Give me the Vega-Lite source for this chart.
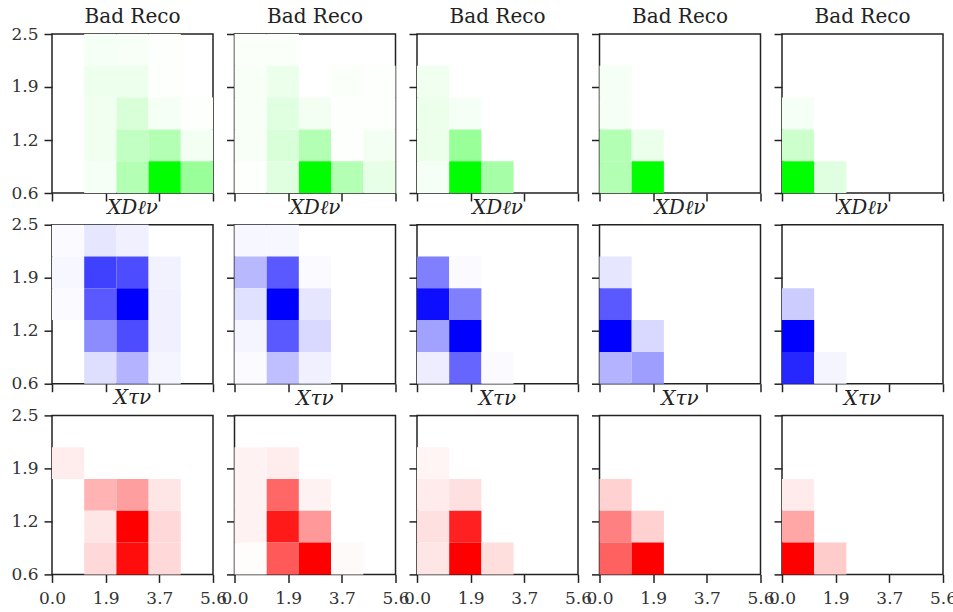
{
  "$schema": "https://vega.github.io/schema/vega-lite/v6.json",
  "padding": {"left": 10, "top": 6, "right": 5, "bottom": 3},
  "datasets": {
    "cells": [
      {"cat": "bad", "p": 1, "x": 1.68, "y": 2.31, "w": 0.04},
      {"cat": "bad", "p": 1, "x": 2.8, "y": 2.31, "w": 0.03},
      {"cat": "bad", "p": 1, "x": 3.92, "y": 2.31, "w": 0.01},
      {"cat": "bad", "p": 1, "x": 1.68, "y": 1.93, "w": 0.07},
      {"cat": "bad", "p": 1, "x": 2.8, "y": 1.93, "w": 0.07},
      {"cat": "bad", "p": 1, "x": 3.92, "y": 1.93, "w": 0.01},
      {"cat": "bad", "p": 1, "x": 1.68, "y": 1.55, "w": 0.06},
      {"cat": "bad", "p": 1, "x": 2.8, "y": 1.55, "w": 0.15},
      {"cat": "bad", "p": 1, "x": 3.92, "y": 1.55, "w": 0.04},
      {"cat": "bad", "p": 1, "x": 5.04, "y": 1.55, "w": 0.01},
      {"cat": "bad", "p": 1, "x": 1.68, "y": 1.17, "w": 0.06},
      {"cat": "bad", "p": 1, "x": 2.8, "y": 1.17, "w": 0.24},
      {"cat": "bad", "p": 1, "x": 3.92, "y": 1.17, "w": 0.3},
      {"cat": "bad", "p": 1, "x": 5.04, "y": 1.17, "w": 0.05},
      {"cat": "bad", "p": 1, "x": 1.68, "y": 0.79, "w": 0.04},
      {"cat": "bad", "p": 1, "x": 2.8, "y": 0.79, "w": 0.3},
      {"cat": "bad", "p": 1, "x": 3.92, "y": 0.79, "w": 1.0},
      {"cat": "bad", "p": 1, "x": 5.04, "y": 0.79, "w": 0.4},

      {"cat": "bad", "p": 2, "x": 0.56, "y": 2.31, "w": 0.02},
      {"cat": "bad", "p": 2, "x": 1.68, "y": 2.31, "w": 0.02},
      {"cat": "bad", "p": 2, "x": 0.56, "y": 1.93, "w": 0.03},
      {"cat": "bad", "p": 2, "x": 1.68, "y": 1.93, "w": 0.08},
      {"cat": "bad", "p": 2, "x": 3.92, "y": 1.93, "w": 0.02},
      {"cat": "bad", "p": 2, "x": 5.04, "y": 1.93, "w": 0.01},
      {"cat": "bad", "p": 2, "x": 0.56, "y": 1.55, "w": 0.03},
      {"cat": "bad", "p": 2, "x": 1.68, "y": 1.55, "w": 0.12},
      {"cat": "bad", "p": 2, "x": 2.8, "y": 1.55, "w": 0.05},
      {"cat": "bad", "p": 2, "x": 3.92, "y": 1.55, "w": 0.01},
      {"cat": "bad", "p": 2, "x": 5.04, "y": 1.55, "w": 0.01},
      {"cat": "bad", "p": 2, "x": 0.56, "y": 1.17, "w": 0.03},
      {"cat": "bad", "p": 2, "x": 1.68, "y": 1.17, "w": 0.15},
      {"cat": "bad", "p": 2, "x": 2.8, "y": 1.17, "w": 0.3},
      {"cat": "bad", "p": 2, "x": 3.92, "y": 1.17, "w": 0.01},
      {"cat": "bad", "p": 2, "x": 5.04, "y": 1.17, "w": 0.05},
      {"cat": "bad", "p": 2, "x": 0.56, "y": 0.79, "w": 0.01},
      {"cat": "bad", "p": 2, "x": 1.68, "y": 0.79, "w": 0.12},
      {"cat": "bad", "p": 2, "x": 2.8, "y": 0.79, "w": 1.0},
      {"cat": "bad", "p": 2, "x": 3.92, "y": 0.79, "w": 0.3},
      {"cat": "bad", "p": 2, "x": 5.04, "y": 0.79, "w": 0.1},

      {"cat": "bad", "p": 3, "x": 0.56, "y": 1.93, "w": 0.06},
      {"cat": "bad", "p": 3, "x": 0.56, "y": 1.55, "w": 0.08},
      {"cat": "bad", "p": 3, "x": 1.68, "y": 1.55, "w": 0.04},
      {"cat": "bad", "p": 3, "x": 0.56, "y": 1.17, "w": 0.08},
      {"cat": "bad", "p": 3, "x": 1.68, "y": 1.17, "w": 0.4},
      {"cat": "bad", "p": 3, "x": 0.56, "y": 0.79, "w": 0.04},
      {"cat": "bad", "p": 3, "x": 1.68, "y": 0.79, "w": 1.0},
      {"cat": "bad", "p": 3, "x": 2.8, "y": 0.79, "w": 0.35},

      {"cat": "bad", "p": 4, "x": 0.56, "y": 1.93, "w": 0.04},
      {"cat": "bad", "p": 4, "x": 0.56, "y": 1.55, "w": 0.04},
      {"cat": "bad", "p": 4, "x": 0.56, "y": 1.17, "w": 0.3},
      {"cat": "bad", "p": 4, "x": 1.68, "y": 1.17, "w": 0.08},
      {"cat": "bad", "p": 4, "x": 0.56, "y": 0.79, "w": 0.3},
      {"cat": "bad", "p": 4, "x": 1.68, "y": 0.79, "w": 1.0},

      {"cat": "bad", "p": 5, "x": 0.56, "y": 1.55, "w": 0.04},
      {"cat": "bad", "p": 5, "x": 0.56, "y": 1.17, "w": 0.2},
      {"cat": "bad", "p": 5, "x": 0.56, "y": 0.79, "w": 1.0},
      {"cat": "bad", "p": 5, "x": 1.68, "y": 0.79, "w": 0.12},

      {"cat": "xdl", "p": 1, "x": 0.56, "y": 2.31, "w": 0.02},
      {"cat": "xdl", "p": 1, "x": 1.68, "y": 2.31, "w": 0.1},
      {"cat": "xdl", "p": 1, "x": 2.8, "y": 2.31, "w": 0.06},
      {"cat": "xdl", "p": 1, "x": 0.56, "y": 1.93, "w": 0.03},
      {"cat": "xdl", "p": 1, "x": 1.68, "y": 1.93, "w": 0.75},
      {"cat": "xdl", "p": 1, "x": 2.8, "y": 1.93, "w": 0.7},
      {"cat": "xdl", "p": 1, "x": 3.92, "y": 1.93, "w": 0.05},
      {"cat": "xdl", "p": 1, "x": 0.56, "y": 1.55, "w": 0.02},
      {"cat": "xdl", "p": 1, "x": 1.68, "y": 1.55, "w": 0.65},
      {"cat": "xdl", "p": 1, "x": 2.8, "y": 1.55, "w": 1.0},
      {"cat": "xdl", "p": 1, "x": 3.92, "y": 1.55, "w": 0.06},
      {"cat": "xdl", "p": 1, "x": 1.68, "y": 1.17, "w": 0.45},
      {"cat": "xdl", "p": 1, "x": 2.8, "y": 1.17, "w": 0.7},
      {"cat": "xdl", "p": 1, "x": 3.92, "y": 1.17, "w": 0.06},
      {"cat": "xdl", "p": 1, "x": 1.68, "y": 0.79, "w": 0.13},
      {"cat": "xdl", "p": 1, "x": 2.8, "y": 0.79, "w": 0.3},
      {"cat": "xdl", "p": 1, "x": 3.92, "y": 0.79, "w": 0.04},

      {"cat": "xdl", "p": 2, "x": 0.56, "y": 2.31, "w": 0.03},
      {"cat": "xdl", "p": 2, "x": 1.68, "y": 2.31, "w": 0.03},
      {"cat": "xdl", "p": 2, "x": 0.56, "y": 1.93, "w": 0.28},
      {"cat": "xdl", "p": 2, "x": 1.68, "y": 1.93, "w": 0.65},
      {"cat": "xdl", "p": 2, "x": 2.8, "y": 1.93, "w": 0.02},
      {"cat": "xdl", "p": 2, "x": 0.56, "y": 1.55, "w": 0.12},
      {"cat": "xdl", "p": 2, "x": 1.68, "y": 1.55, "w": 1.0},
      {"cat": "xdl", "p": 2, "x": 2.8, "y": 1.55, "w": 0.1},
      {"cat": "xdl", "p": 2, "x": 0.56, "y": 1.17, "w": 0.04},
      {"cat": "xdl", "p": 2, "x": 1.68, "y": 1.17, "w": 0.65},
      {"cat": "xdl", "p": 2, "x": 2.8, "y": 1.17, "w": 0.15},
      {"cat": "xdl", "p": 2, "x": 0.56, "y": 0.79, "w": 0.02},
      {"cat": "xdl", "p": 2, "x": 1.68, "y": 0.79, "w": 0.25},
      {"cat": "xdl", "p": 2, "x": 2.8, "y": 0.79, "w": 0.06},

      {"cat": "xdl", "p": 3, "x": 0.56, "y": 1.93, "w": 0.5},
      {"cat": "xdl", "p": 3, "x": 1.68, "y": 1.93, "w": 0.02},
      {"cat": "xdl", "p": 3, "x": 0.56, "y": 1.55, "w": 0.95},
      {"cat": "xdl", "p": 3, "x": 1.68, "y": 1.55, "w": 0.5},
      {"cat": "xdl", "p": 3, "x": 0.56, "y": 1.17, "w": 0.37},
      {"cat": "xdl", "p": 3, "x": 1.68, "y": 1.17, "w": 1.0},
      {"cat": "xdl", "p": 3, "x": 0.56, "y": 0.79, "w": 0.07},
      {"cat": "xdl", "p": 3, "x": 1.68, "y": 0.79, "w": 0.6},
      {"cat": "xdl", "p": 3, "x": 2.8, "y": 0.79, "w": 0.02},

      {"cat": "xdl", "p": 4, "x": 0.56, "y": 1.93, "w": 0.1},
      {"cat": "xdl", "p": 4, "x": 0.56, "y": 1.55, "w": 0.65},
      {"cat": "xdl", "p": 4, "x": 0.56, "y": 1.17, "w": 1.0},
      {"cat": "xdl", "p": 4, "x": 1.68, "y": 1.17, "w": 0.15},
      {"cat": "xdl", "p": 4, "x": 0.56, "y": 0.79, "w": 0.3},
      {"cat": "xdl", "p": 4, "x": 1.68, "y": 0.79, "w": 0.38},

      {"cat": "xdl", "p": 5, "x": 0.56, "y": 1.55, "w": 0.2},
      {"cat": "xdl", "p": 5, "x": 0.56, "y": 1.17, "w": 1.0},
      {"cat": "xdl", "p": 5, "x": 0.56, "y": 0.79, "w": 0.85},
      {"cat": "xdl", "p": 5, "x": 1.68, "y": 0.79, "w": 0.04},

      {"cat": "xtv", "p": 1, "x": 0.56, "y": 1.93, "w": 0.07},
      {"cat": "xtv", "p": 1, "x": 1.68, "y": 1.55, "w": 0.3},
      {"cat": "xtv", "p": 1, "x": 2.8, "y": 1.55, "w": 0.38},
      {"cat": "xtv", "p": 1, "x": 3.92, "y": 1.55, "w": 0.1},
      {"cat": "xtv", "p": 1, "x": 1.68, "y": 1.17, "w": 0.1},
      {"cat": "xtv", "p": 1, "x": 2.8, "y": 1.17, "w": 1.0},
      {"cat": "xtv", "p": 1, "x": 3.92, "y": 1.17, "w": 0.15},
      {"cat": "xtv", "p": 1, "x": 1.68, "y": 0.79, "w": 0.15},
      {"cat": "xtv", "p": 1, "x": 2.8, "y": 0.79, "w": 0.95},
      {"cat": "xtv", "p": 1, "x": 3.92, "y": 0.79, "w": 0.15},

      {"cat": "xtv", "p": 2, "x": 0.56, "y": 1.93, "w": 0.05},
      {"cat": "xtv", "p": 2, "x": 1.68, "y": 1.93, "w": 0.07},
      {"cat": "xtv", "p": 2, "x": 0.56, "y": 1.55, "w": 0.05},
      {"cat": "xtv", "p": 2, "x": 1.68, "y": 1.55, "w": 0.6},
      {"cat": "xtv", "p": 2, "x": 2.8, "y": 1.55, "w": 0.05},
      {"cat": "xtv", "p": 2, "x": 0.56, "y": 1.17, "w": 0.05},
      {"cat": "xtv", "p": 2, "x": 1.68, "y": 1.17, "w": 0.9},
      {"cat": "xtv", "p": 2, "x": 2.8, "y": 1.17, "w": 0.4},
      {"cat": "xtv", "p": 2, "x": 0.56, "y": 0.79, "w": 0.01},
      {"cat": "xtv", "p": 2, "x": 1.68, "y": 0.79, "w": 0.65},
      {"cat": "xtv", "p": 2, "x": 2.8, "y": 0.79, "w": 1.0},
      {"cat": "xtv", "p": 2, "x": 3.92, "y": 0.79, "w": 0.02},

      {"cat": "xtv", "p": 3, "x": 0.56, "y": 1.93, "w": 0.04},
      {"cat": "xtv", "p": 3, "x": 0.56, "y": 1.55, "w": 0.08},
      {"cat": "xtv", "p": 3, "x": 1.68, "y": 1.55, "w": 0.12},
      {"cat": "xtv", "p": 3, "x": 0.56, "y": 1.17, "w": 0.12},
      {"cat": "xtv", "p": 3, "x": 1.68, "y": 1.17, "w": 0.87},
      {"cat": "xtv", "p": 3, "x": 0.56, "y": 0.79, "w": 0.1},
      {"cat": "xtv", "p": 3, "x": 1.68, "y": 0.79, "w": 1.0},
      {"cat": "xtv", "p": 3, "x": 2.8, "y": 0.79, "w": 0.13},

      {"cat": "xtv", "p": 4, "x": 0.56, "y": 1.55, "w": 0.18},
      {"cat": "xtv", "p": 4, "x": 0.56, "y": 1.17, "w": 0.5},
      {"cat": "xtv", "p": 4, "x": 1.68, "y": 1.17, "w": 0.18},
      {"cat": "xtv", "p": 4, "x": 0.56, "y": 0.79, "w": 0.62},
      {"cat": "xtv", "p": 4, "x": 1.68, "y": 0.79, "w": 1.0},

      {"cat": "xtv", "p": 5, "x": 0.56, "y": 1.55, "w": 0.08},
      {"cat": "xtv", "p": 5, "x": 0.56, "y": 1.17, "w": 0.35},
      {"cat": "xtv", "p": 5, "x": 0.56, "y": 0.79, "w": 1.0},
      {"cat": "xtv", "p": 5, "x": 1.68, "y": 0.79, "w": 0.2}
    ]
  },
  "data": {"name": "cells"},
  "transform": [
    {"bin": {"extent": [0, 5.6], "step": 1.12, "nice": false}, "field": "x", "as": ["x0", "x1"]},
    {"bin": {"extent": [0.6, 2.5], "step": 0.38, "nice": false}, "field": "y", "as": ["y0", "y1"]}
  ],
  "columns": 5,
  "bounds": "flush",
  "spacing": {"row": 31.7, "column": 21.5},
  "resolve": {"scale": {"color": "independent", "x": "independent", "y": "independent"}},
  "concat": [
    {"title": {"text": "Bad Reco", "dy": 8}, "transform": [{"filter": "datum.cat == 'bad' && datum.p == 1"}], "mark": "rect",
     "encoding": {
       "x": {"field": "x0", "type": "quantitative", "scale": {"domain": [0, 5.6], "nice": false, "zero": false}, "axis": {"title": null, "values": [0, 1.8667, 3.7333, 5.6], "labels": false}},
       "x2": {"field": "x1"},
       "y": {"field": "y0", "type": "quantitative", "scale": {"domain": [0.6, 2.5], "nice": false, "zero": false}, "axis": {"title": null, "values": [0.6, 1.2333, 1.8667, 2.5], "labels": true}},
       "y2": {"field": "y1"},
       "color": {"field": "w", "type": "quantitative", "scale": {"domain": [0, 1], "range": ["#ffffff", "#00ff00"], "interpolate": "rgb"}, "legend": null}}},
    {"title": {"text": "Bad Reco"}, "transform": [{"filter": "datum.cat == 'bad' && datum.p == 2"}], "mark": "rect",
     "encoding": {
       "x": {"field": "x0", "type": "quantitative", "scale": {"domain": [0, 5.6], "nice": false, "zero": false}, "axis": {"title": null, "values": [0, 1.8667, 3.7333, 5.6], "labels": false}},
       "x2": {"field": "x1"},
       "y": {"field": "y0", "type": "quantitative", "scale": {"domain": [0.6, 2.5], "nice": false, "zero": false}, "axis": {"title": null, "values": [0.6, 1.2333, 1.8667, 2.5], "labels": false}},
       "y2": {"field": "y1"},
       "color": {"field": "w", "type": "quantitative", "scale": {"domain": [0, 1], "range": ["#ffffff", "#00ff00"], "interpolate": "rgb"}, "legend": null}}},
    {"title": {"text": "Bad Reco"}, "transform": [{"filter": "datum.cat == 'bad' && datum.p == 3"}], "mark": "rect",
     "encoding": {
       "x": {"field": "x0", "type": "quantitative", "scale": {"domain": [0, 5.6], "nice": false, "zero": false}, "axis": {"title": null, "values": [0, 1.8667, 3.7333, 5.6], "labels": false}},
       "x2": {"field": "x1"},
       "y": {"field": "y0", "type": "quantitative", "scale": {"domain": [0.6, 2.5], "nice": false, "zero": false}, "axis": {"title": null, "values": [0.6, 1.2333, 1.8667, 2.5], "labels": false}},
       "y2": {"field": "y1"},
       "color": {"field": "w", "type": "quantitative", "scale": {"domain": [0, 1], "range": ["#ffffff", "#00ff00"], "interpolate": "rgb"}, "legend": null}}},
    {"title": {"text": "Bad Reco"}, "transform": [{"filter": "datum.cat == 'bad' && datum.p == 4"}], "mark": "rect",
     "encoding": {
       "x": {"field": "x0", "type": "quantitative", "scale": {"domain": [0, 5.6], "nice": false, "zero": false}, "axis": {"title": null, "values": [0, 1.8667, 3.7333, 5.6], "labels": false}},
       "x2": {"field": "x1"},
       "y": {"field": "y0", "type": "quantitative", "scale": {"domain": [0.6, 2.5], "nice": false, "zero": false}, "axis": {"title": null, "values": [0.6, 1.2333, 1.8667, 2.5], "labels": false}},
       "y2": {"field": "y1"},
       "color": {"field": "w", "type": "quantitative", "scale": {"domain": [0, 1], "range": ["#ffffff", "#00ff00"], "interpolate": "rgb"}, "legend": null}}},
    {"title": {"text": "Bad Reco"}, "transform": [{"filter": "datum.cat == 'bad' && datum.p == 5"}], "mark": "rect",
     "encoding": {
       "x": {"field": "x0", "type": "quantitative", "scale": {"domain": [0, 5.6], "nice": false, "zero": false}, "axis": {"title": null, "values": [0, 1.8667, 3.7333, 5.6], "labels": false}},
       "x2": {"field": "x1"},
       "y": {"field": "y0", "type": "quantitative", "scale": {"domain": [0.6, 2.5], "nice": false, "zero": false}, "axis": {"title": null, "values": [0.6, 1.2333, 1.8667, 2.5], "labels": false}},
       "y2": {"field": "y1"},
       "color": {"field": "w", "type": "quantitative", "scale": {"domain": [0, 1], "range": ["#ffffff", "#00ff00"], "interpolate": "rgb"}, "legend": null}}},
    {"title": {"text": "XDℓν", "fontStyle": "italic", "dy": 8}, "transform": [{"filter": "datum.cat == 'xdl' && datum.p == 1"}], "mark": "rect",
     "encoding": {
       "x": {"field": "x0", "type": "quantitative", "scale": {"domain": [0, 5.6], "nice": false, "zero": false}, "axis": {"title": null, "values": [0, 1.8667, 3.7333, 5.6], "labels": false}},
       "x2": {"field": "x1"},
       "y": {"field": "y0", "type": "quantitative", "scale": {"domain": [0.6, 2.5], "nice": false, "zero": false}, "axis": {"title": null, "values": [0.6, 1.2333, 1.8667, 2.5], "labels": true}},
       "y2": {"field": "y1"},
       "color": {"field": "w", "type": "quantitative", "scale": {"domain": [0, 1], "range": ["#ffffff", "#0000ff"], "interpolate": "rgb"}, "legend": null}}},
    {"title": {"text": "XDℓν", "fontStyle": "italic"}, "transform": [{"filter": "datum.cat == 'xdl' && datum.p == 2"}], "mark": "rect",
     "encoding": {
       "x": {"field": "x0", "type": "quantitative", "scale": {"domain": [0, 5.6], "nice": false, "zero": false}, "axis": {"title": null, "values": [0, 1.8667, 3.7333, 5.6], "labels": false}},
       "x2": {"field": "x1"},
       "y": {"field": "y0", "type": "quantitative", "scale": {"domain": [0.6, 2.5], "nice": false, "zero": false}, "axis": {"title": null, "values": [0.6, 1.2333, 1.8667, 2.5], "labels": false}},
       "y2": {"field": "y1"},
       "color": {"field": "w", "type": "quantitative", "scale": {"domain": [0, 1], "range": ["#ffffff", "#0000ff"], "interpolate": "rgb"}, "legend": null}}},
    {"title": {"text": "XDℓν", "fontStyle": "italic"}, "transform": [{"filter": "datum.cat == 'xdl' && datum.p == 3"}], "mark": "rect",
     "encoding": {
       "x": {"field": "x0", "type": "quantitative", "scale": {"domain": [0, 5.6], "nice": false, "zero": false}, "axis": {"title": null, "values": [0, 1.8667, 3.7333, 5.6], "labels": false}},
       "x2": {"field": "x1"},
       "y": {"field": "y0", "type": "quantitative", "scale": {"domain": [0.6, 2.5], "nice": false, "zero": false}, "axis": {"title": null, "values": [0.6, 1.2333, 1.8667, 2.5], "labels": false}},
       "y2": {"field": "y1"},
       "color": {"field": "w", "type": "quantitative", "scale": {"domain": [0, 1], "range": ["#ffffff", "#0000ff"], "interpolate": "rgb"}, "legend": null}}},
    {"title": {"text": "XDℓν", "fontStyle": "italic"}, "transform": [{"filter": "datum.cat == 'xdl' && datum.p == 4"}], "mark": "rect",
     "encoding": {
       "x": {"field": "x0", "type": "quantitative", "scale": {"domain": [0, 5.6], "nice": false, "zero": false}, "axis": {"title": null, "values": [0, 1.8667, 3.7333, 5.6], "labels": false}},
       "x2": {"field": "x1"},
       "y": {"field": "y0", "type": "quantitative", "scale": {"domain": [0.6, 2.5], "nice": false, "zero": false}, "axis": {"title": null, "values": [0.6, 1.2333, 1.8667, 2.5], "labels": false}},
       "y2": {"field": "y1"},
       "color": {"field": "w", "type": "quantitative", "scale": {"domain": [0, 1], "range": ["#ffffff", "#0000ff"], "interpolate": "rgb"}, "legend": null}}},
    {"title": {"text": "XDℓν", "fontStyle": "italic"}, "transform": [{"filter": "datum.cat == 'xdl' && datum.p == 5"}], "mark": "rect",
     "encoding": {
       "x": {"field": "x0", "type": "quantitative", "scale": {"domain": [0, 5.6], "nice": false, "zero": false}, "axis": {"title": null, "values": [0, 1.8667, 3.7333, 5.6], "labels": false}},
       "x2": {"field": "x1"},
       "y": {"field": "y0", "type": "quantitative", "scale": {"domain": [0.6, 2.5], "nice": false, "zero": false}, "axis": {"title": null, "values": [0.6, 1.2333, 1.8667, 2.5], "labels": false}},
       "y2": {"field": "y1"},
       "color": {"field": "w", "type": "quantitative", "scale": {"domain": [0, 1], "range": ["#ffffff", "#0000ff"], "interpolate": "rgb"}, "legend": null}}},
    {"title": {"text": "Xτν", "fontStyle": "italic", "dy": 8}, "transform": [{"filter": "datum.cat == 'xtv' && datum.p == 1"}], "mark": "rect",
     "encoding": {
       "x": {"field": "x0", "type": "quantitative", "scale": {"domain": [0, 5.6], "nice": false, "zero": false}, "axis": {"title": null, "values": [0, 1.8667, 3.7333, 5.6], "labels": true}},
       "x2": {"field": "x1"},
       "y": {"field": "y0", "type": "quantitative", "scale": {"domain": [0.6, 2.5], "nice": false, "zero": false}, "axis": {"title": null, "values": [0.6, 1.2333, 1.8667, 2.5], "labels": true}},
       "y2": {"field": "y1"},
       "color": {"field": "w", "type": "quantitative", "scale": {"domain": [0, 1], "range": ["#ffffff", "#ff0000"], "interpolate": "rgb"}, "legend": null}}},
    {"title": {"text": "Xτν", "fontStyle": "italic"}, "transform": [{"filter": "datum.cat == 'xtv' && datum.p == 2"}], "mark": "rect",
     "encoding": {
       "x": {"field": "x0", "type": "quantitative", "scale": {"domain": [0, 5.6], "nice": false, "zero": false}, "axis": {"title": null, "values": [0, 1.8667, 3.7333, 5.6], "labels": true}},
       "x2": {"field": "x1"},
       "y": {"field": "y0", "type": "quantitative", "scale": {"domain": [0.6, 2.5], "nice": false, "zero": false}, "axis": {"title": null, "values": [0.6, 1.2333, 1.8667, 2.5], "labels": false}},
       "y2": {"field": "y1"},
       "color": {"field": "w", "type": "quantitative", "scale": {"domain": [0, 1], "range": ["#ffffff", "#ff0000"], "interpolate": "rgb"}, "legend": null}}},
    {"title": {"text": "Xτν", "fontStyle": "italic"}, "transform": [{"filter": "datum.cat == 'xtv' && datum.p == 3"}], "mark": "rect",
     "encoding": {
       "x": {"field": "x0", "type": "quantitative", "scale": {"domain": [0, 5.6], "nice": false, "zero": false}, "axis": {"title": null, "values": [0, 1.8667, 3.7333, 5.6], "labels": true}},
       "x2": {"field": "x1"},
       "y": {"field": "y0", "type": "quantitative", "scale": {"domain": [0.6, 2.5], "nice": false, "zero": false}, "axis": {"title": null, "values": [0.6, 1.2333, 1.8667, 2.5], "labels": false}},
       "y2": {"field": "y1"},
       "color": {"field": "w", "type": "quantitative", "scale": {"domain": [0, 1], "range": ["#ffffff", "#ff0000"], "interpolate": "rgb"}, "legend": null}}},
    {"title": {"text": "Xτν", "fontStyle": "italic"}, "transform": [{"filter": "datum.cat == 'xtv' && datum.p == 4"}], "mark": "rect",
     "encoding": {
       "x": {"field": "x0", "type": "quantitative", "scale": {"domain": [0, 5.6], "nice": false, "zero": false}, "axis": {"title": null, "values": [0, 1.8667, 3.7333, 5.6], "labels": true}},
       "x2": {"field": "x1"},
       "y": {"field": "y0", "type": "quantitative", "scale": {"domain": [0.6, 2.5], "nice": false, "zero": false}, "axis": {"title": null, "values": [0.6, 1.2333, 1.8667, 2.5], "labels": false}},
       "y2": {"field": "y1"},
       "color": {"field": "w", "type": "quantitative", "scale": {"domain": [0, 1], "range": ["#ffffff", "#ff0000"], "interpolate": "rgb"}, "legend": null}}},
    {"title": {"text": "Xτν", "fontStyle": "italic"}, "transform": [{"filter": "datum.cat == 'xtv' && datum.p == 5"}], "mark": "rect",
     "encoding": {
       "x": {"field": "x0", "type": "quantitative", "scale": {"domain": [0, 5.6], "nice": false, "zero": false}, "axis": {"title": null, "values": [0, 1.8667, 3.7333, 5.6], "labels": true}},
       "x2": {"field": "x1"},
       "y": {"field": "y0", "type": "quantitative", "scale": {"domain": [0.6, 2.5], "nice": false, "zero": false}, "axis": {"title": null, "values": [0.6, 1.2333, 1.8667, 2.5], "labels": false}},
       "y2": {"field": "y1"},
       "color": {"field": "w", "type": "quantitative", "scale": {"domain": [0, 1], "range": ["#ffffff", "#ff0000"], "interpolate": "rgb"}, "legend": null}}}
  ],
  "config": {
    "background": "white",
    "view": {"continuousWidth": 161, "continuousHeight": 159, "stroke": "#222222", "strokeWidth": 1.5},
    "title": {"font": "DejaVu Serif", "fontSize": 20, "fontWeight": "normal", "color": "#222222", "offset": 6, "anchor": "middle", "frame": "group"},
    "axis": {"grid": false, "domain": false, "tickColor": "#222222", "tickSize": 8, "tickWidth": 1.5, "labelFont": "DejaVu Serif", "labelFontSize": 17, "labelColor": "#333333", "labelPadding": 5, "format": ".1f", "labelOverlap": false, "labelBound": false, "labelFlush": false},
    "axisX": {"labelPadding": 8},
    "axisY": {"labelPadding": 6},
    "rect": {"strokeWidth": 0}
  }
}
